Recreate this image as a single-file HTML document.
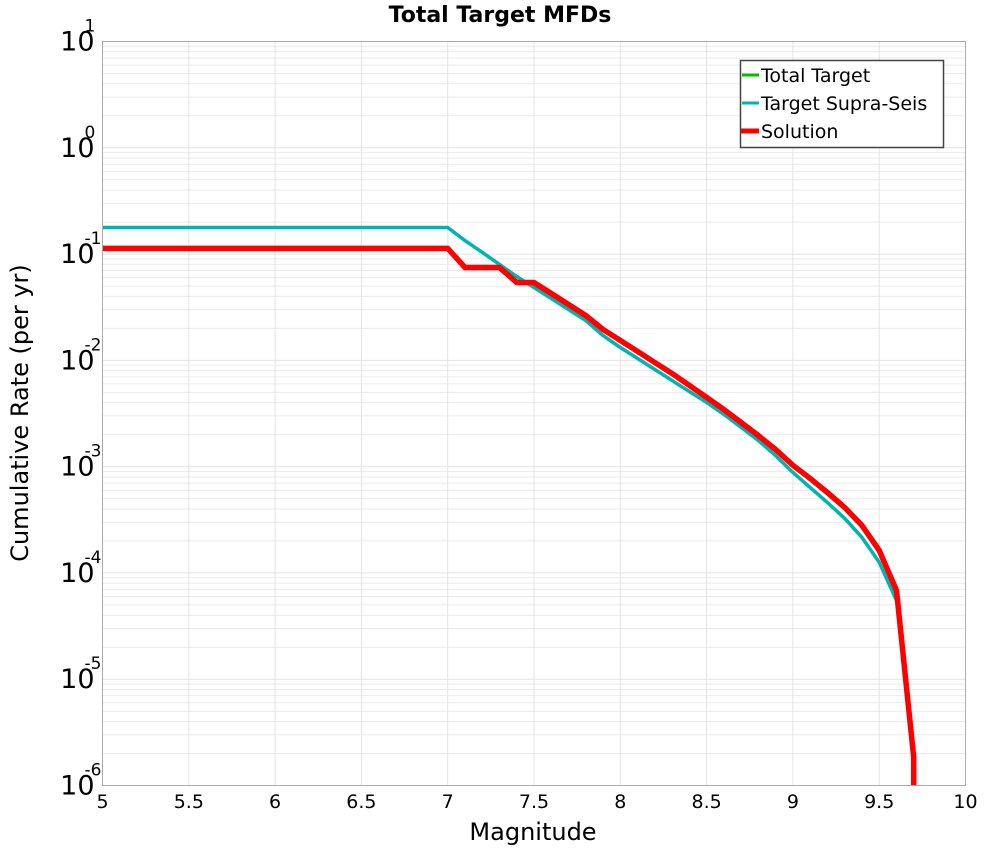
<!DOCTYPE html>
<html><head><meta charset="utf-8"><style>
body{margin:0;background:#fff}
svg{display:block;font-family:"DejaVu Sans","Liberation Sans",sans-serif}
</style></head><body>
<svg id="chart" width="1000" height="850" viewBox="0 0 1000 850" xmlns="http://www.w3.org/2000/svg">
<text x="500" y="22" text-anchor="middle" font-weight="bold" font-size="22">Total Target MFDs</text>
<g id="grid"></g>
<g id="series"></g>
<rect x="102.5" y="41.5" width="863" height="744" fill="none" stroke="#aaa" stroke-width="1"/>
<g id="ticks"></g>
<text x="533" y="840" text-anchor="middle" font-size="24">Magnitude</text>
<text transform="translate(28,413) rotate(-90)" text-anchor="middle" font-size="24">Cumulative Rate (per yr)</text>
<g>
<rect x="740.5" y="60.5" width="203" height="87" fill="#fff" stroke="#444" stroke-width="1.5"/>
<line x1="742" y1="75" x2="759" y2="75" stroke="#00bb00" stroke-width="3"/>
<text x="761" y="82" font-size="19">Total Target</text>
<line x1="742" y1="103" x2="759" y2="103" stroke="#00b5b0" stroke-width="3"/>
<text x="761" y="110" font-size="19">Target Supra-Seis</text>
<line x1="741" y1="131" x2="759" y2="131" stroke="#ff0000" stroke-width="5"/>
<text x="761" y="138" font-size="19">Solution</text>
</g>
</svg>
<script>
const mags = [5.0,7.0,7.1,7.2,7.3,7.4,7.5,7.6,7.7,7.8,7.9,8.0,8.1,8.2,8.3,8.4,8.5,8.6,8.7,8.8,8.9,9.0,9.1,9.2,9.3,9.4,9.5,9.6];
const supraSeis = [0.178,0.178,0.134,0.104,0.080,0.0615,0.0485,0.0382,0.0301,0.0237,0.01714,0.0132,0.01042,0.0082,0.00647,0.00509,0.00402,0.0031,0.00234,0.00176,0.00127,0.00088,0.000637,0.00046,0.000326,0.000216,0.000126,0.000055];
const totalTarget = supraSeis.slice();
const solMags = [5.0,7.0,7.1,7.2,7.3,7.4,7.5,7.6,7.7,7.8,7.9,8.0,8.1,8.2,8.3,8.4,8.5,8.6,8.7,8.8,8.9,9.0,9.1,9.2,9.3,9.4,9.5,9.6,9.7,9.7];
const solution = [0.113,0.113,0.0748,0.0748,0.0748,0.054,0.054,0.0426,0.0336,0.0264,0.01954,0.0154,0.01213,0.00955,0.00753,0.00581,0.00448,0.00345,0.0026,0.00196,0.00145,0.00103,0.000774,0.000571,0.000413,0.00028,0.000163,0.0000684,0.00000184,0.000001];
const xTicks = [5,5.5,6,6.5,7,7.5,8,8.5,9,9.5,10];
const yExps = [1,0,-1,-2,-3,-4,-5,-6];

const X0=102.5,X1=965.5,Y0=41.5,Y1=785.5;
const xs = m => X0 + (m-5)/5*(X1-X0);
const ys = v => Y0 + (1-Math.log10(v))/7*(Y1-Y0);
const NS="http://www.w3.org/2000/svg";
function mk(tag, parent, attrs){const e=document.createElementNS(NS,tag);for(const k in attrs)e.setAttribute(k,attrs[k]);parent.appendChild(e);return e;}
const grid=document.getElementById('grid'), ticks=document.getElementById('ticks'), series=document.getElementById('series');
for(let e=-6;e<1;e++){for(let k=2;k<=9;k++){const y=ys(k*Math.pow(10,e));
 const l=mk('line',grid,{x1:X0,x2:X1,y1:y,y2:y,stroke:'#ebebeb','stroke-width':1});
 
 }}
yExps.forEach(e=>{const y=ys(Math.pow(10,e));
 const l=mk('line',grid,{x1:X0,x2:X1,y1:y,y2:y,stroke:'#e4e4e4','stroke-width':1});
 
 
 const t=mk('text',ticks,{x:X0-8,y:y+9,'text-anchor':'end','font-size':'27'});
 
 
 t.textContent='10';
 const s=mk('text',ticks,{x:X0-18,y:y-10,'font-size':'17'});
 
 
 s.textContent=String(e);});
xTicks.forEach(m=>{const x=xs(m);
 const l=mk('line',grid,{x1:x,x2:x,y1:Y0,y2:Y1,stroke:'#e4e4e4','stroke-width':1});
 
 
 const t=mk('text',ticks,{x:x,y:808,'text-anchor':'middle','font-size':'19'});
 
 
 t.textContent=String(m);});
function path(mx,vals,color,w,name){
 const d=mx.map((m,i)=>(i?'L':'M')+xs(m).toFixed(1)+','+ys(vals[i]).toFixed(1)).join(' ');
 const p=mk('path',series,{d:d,fill:'none',stroke:color,'stroke-width':w,'stroke-linejoin':'miter'});
 
 }
path(mags,totalTarget,'#00bb00',3,'total-target-line');
path(mags,supraSeis,'#00b5b0',3.5,'target-supra-seis-line');
path(solMags,solution,'#ff0000',5.5,'solution-line');
</script>
</body></html>
